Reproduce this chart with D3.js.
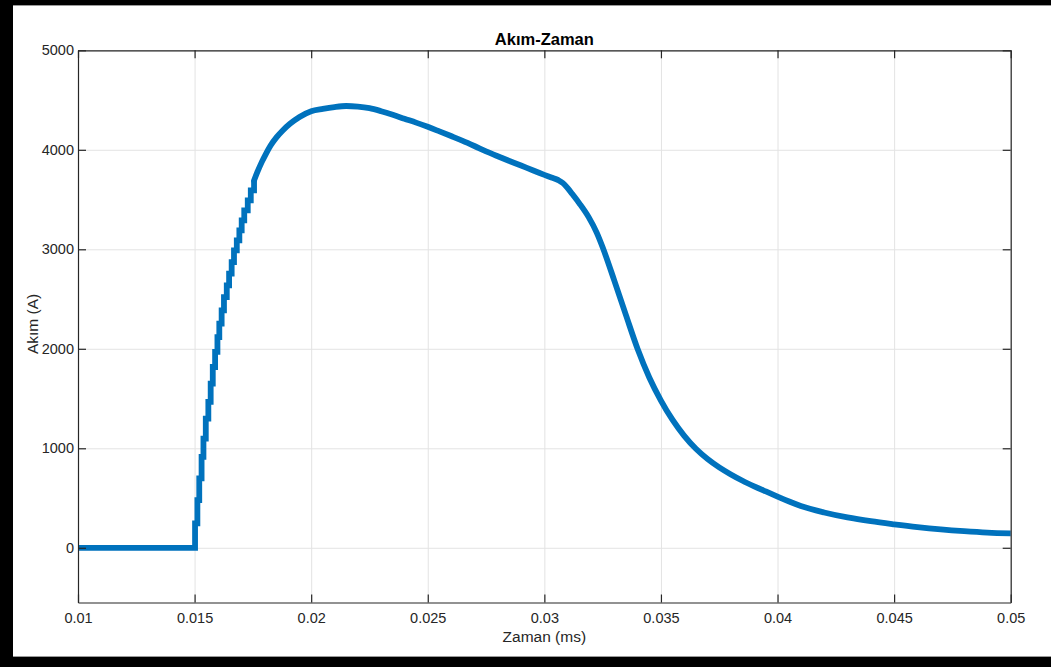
<!DOCTYPE html>
<html>
<head>
<meta charset="utf-8">
<script src="https://cdn.jsdelivr.net/npm/d3@7"></script>
<style>
	body { margin: 0; background: #fff; }
	svg { display: block; font-family: "Liberation Sans", Arial, sans-serif; }
	.grid line { stroke: #e3e3e3; stroke-width: 1; }
	.grid .domain { display: none; }
	.axis .domain { stroke: #262626; stroke-width: 1.2; }
	.axis line { stroke: #262626; stroke-width: 1.2; }
	.axis text { fill: #262626; font-size: 14.5px; }
</style>
</head>
<body>
<div class="chart"></div>
<script>
// Data: rising edge (drawn as stairs) and the rest of the waveform
const stepTimes = [0.010, 0.01500, 0.01502, 0.01512, 0.01520, 0.01530, 0.01538, 0.01548, 0.01559, 0.01569,
	0.01578, 0.01588, 0.01598, 0.01606, 0.01616, 0.01626, 0.01638, 0.01648, 0.01659, 0.01669,
	0.01681, 0.01692, 0.01702, 0.01713, 0.01728, 0.01741, 0.01755];
const stepCurrents = [0, 0, 245, 479, 697, 914, 1098, 1299, 1466, 1650,
	1817, 1968, 2118, 2253, 2387, 2520, 2638, 2755, 2872, 2989,
	3089, 3190, 3290, 3391, 3491, 3592, 3692];

const smoothTimes = [0.01755, 0.01769, 0.01788, 0.01806, 0.01826, 0.01852, 0.01878, 0.01909, 0.0195,
	0.020, 0.0205, 0.021, 0.0215, 0.022, 0.0225, 0.023, 0.0235, 0.024,
	0.0245, 0.025, 0.0255, 0.026, 0.0265, 0.027, 0.0275, 0.028, 0.0285, 0.029,
	0.0295, 0.030, 0.0303, 0.0306, 0.0308, 0.0310, 0.0312, 0.0315, 0.0319, 0.03225,
	0.0325, 0.033, 0.0335, 0.034, 0.0345, 0.035, 0.0355, 0.036, 0.0365, 0.037,
	0.0375, 0.038, 0.0385, 0.039, 0.0395, 0.040, 0.0405, 0.041, 0.042, 0.043,
	0.044, 0.045, 0.046, 0.047, 0.048, 0.049, 0.050];
const smoothCurrents = [3692, 3775, 3876, 3960, 4043, 4127, 4194, 4261, 4330,
	4388, 4412, 4430, 4440, 4434, 4418, 4388, 4352, 4312,
	4273, 4231, 4185, 4138, 4090, 4038, 3984, 3935, 3888, 3842,
	3794, 3748, 3722, 3695, 3665, 3615, 3555, 3462, 3323, 3165,
	3020, 2685, 2338, 1998, 1712, 1480, 1285, 1125, 995, 892,
	808, 737, 674, 618, 566, 515, 465, 420, 355, 305,
	267, 236, 208, 185, 167, 153, 145];

const xTicks = [0.01, 0.015, 0.02, 0.025, 0.03, 0.035, 0.04, 0.045, 0.05];
const yTicks = [0, 1000, 2000, 3000, 4000, 5000];

// Dimensions
const W = 1051, H = 667;
const margin = {top: 50.3, right: 40.3, bottom: 64.5, left: 78};
const width = W - margin.left - margin.right;
const height = H - margin.top - margin.bottom;

// Scales
const xScale = d3.scaleLinear().domain([0.01, 0.05]).range([0, width]);
const yScale = d3.scaleLinear().domain([-550, 5000]).range([height, 0]);

const root = d3.select('.chart')
	.append('svg')
	.attr('width', W)
	.attr('height', H);

// Black frame around the figure
root.append('rect').attr('x', 0).attr('y', 0).attr('width', W).attr('height', 5).attr('fill', '#000');
root.append('rect').attr('x', 0).attr('y', 0).attr('width', 13).attr('height', H).attr('fill', '#000');
root.append('rect').attr('x', 0).attr('y', 657).attr('width', W).attr('height', 10).attr('fill', '#000');
root.append('line').attr('x1', 13).attr('x2', W).attr('y1', 5.5).attr('y2', 5.5).attr('stroke', '#9a9a9a');
root.append('line').attr('x1', 13).attr('x2', W).attr('y1', 656.5).attr('y2', 656.5).attr('stroke', '#9a9a9a');

const svg = root.append('g')
	.attr('transform', `translate(${margin.left}, ${margin.top})`);

// Grid
svg.append('g')
	.attr('class', 'grid')
	.attr('transform', `translate(0, ${height})`)
	.call(d3.axisBottom(xScale).tickValues(xTicks).tickSize(-height).tickFormat(''));
svg.append('g')
	.attr('class', 'grid')
	.call(d3.axisLeft(yScale).tickValues(yTicks).tickSize(-width).tickFormat(''));

// Line
svg.append('clipPath').attr('id', 'clip')
	.append('rect').attr('width', width).attr('height', height);

const stepData = stepTimes.map((t, i) => ({t: t, v: stepCurrents[i]}));
const smoothData = smoothTimes.map((t, i) => ({t: t, v: smoothCurrents[i]}));

const stairs = d3.line().x(d => xScale(d.t)).y(d => yScale(d.v)).curve(d3.curveStepAfter);
const smooth = d3.line().x(d => xScale(d.t)).y(d => yScale(d.v)).curve(d3.curveMonotoneX);

const lines = svg.append('g').attr('clip-path', 'url(#clip)');
lines.append('path')
	.attr('d', stairs(stepData))
	.attr('fill', 'none')
	.attr('stroke', '#0072BD')
	.attr('stroke-width', 5.8)
	.attr('stroke-linejoin', 'miter');
lines.append('path')
	.attr('d', smooth(smoothData))
	.attr('fill', 'none')
	.attr('stroke', '#0072BD')
	.attr('stroke-width', 5.8)
	.attr('stroke-linejoin', 'round')
	.attr('stroke-linecap', 'round');

// Axes (ticks inward, on all four sides)
const fmtX = d => String(d);
svg.append('g')
	.attr('class', 'axis')
	.attr('transform', `translate(0, ${height})`)
	.call(d3.axisBottom(xScale).tickValues(xTicks).tickSizeInner(-8).tickSizeOuter(0).tickPadding(10).tickFormat(fmtX));
svg.append('g')
	.attr('class', 'axis')
	.call(d3.axisTop(xScale).tickValues(xTicks).tickSizeInner(-8).tickSizeOuter(0).tickFormat(''));
svg.append('g')
	.attr('class', 'axis')
	.call(d3.axisLeft(yScale).tickValues(yTicks).tickSizeInner(-8).tickSizeOuter(0).tickPadding(4).tickFormat(d3.format('d')));
svg.append('g')
	.attr('class', 'axis')
	.attr('transform', `translate(${width}, 0)`)
	.call(d3.axisRight(yScale).tickValues(yTicks).tickSizeInner(-8).tickSizeOuter(0).tickFormat(''));

// Title and labels
svg.append('text')
	.attr('x', width / 2)
	.attr('y', -5.5)
	.attr('text-anchor', 'middle')
	.style('font-size', '16.5px')
	.style('font-weight', 'bold')
	.style('fill', '#000')
	.text('Akım-Zaman');

svg.append('text')
	.attr('x', width / 2)
	.attr('y', height + 40)
	.attr('text-anchor', 'middle')
	.style('font-size', '15.5px')
	.style('fill', '#262626')
	.text('Zaman (ms)');

svg.append('text')
	.attr('transform', `translate(-40, ${yScale(2250)}) rotate(-90)`)
	.attr('text-anchor', 'middle')
	.style('font-size', '15.5px')
	.style('fill', '#262626')
	.text('Akım (A)');
</script>
</body>
</html>
